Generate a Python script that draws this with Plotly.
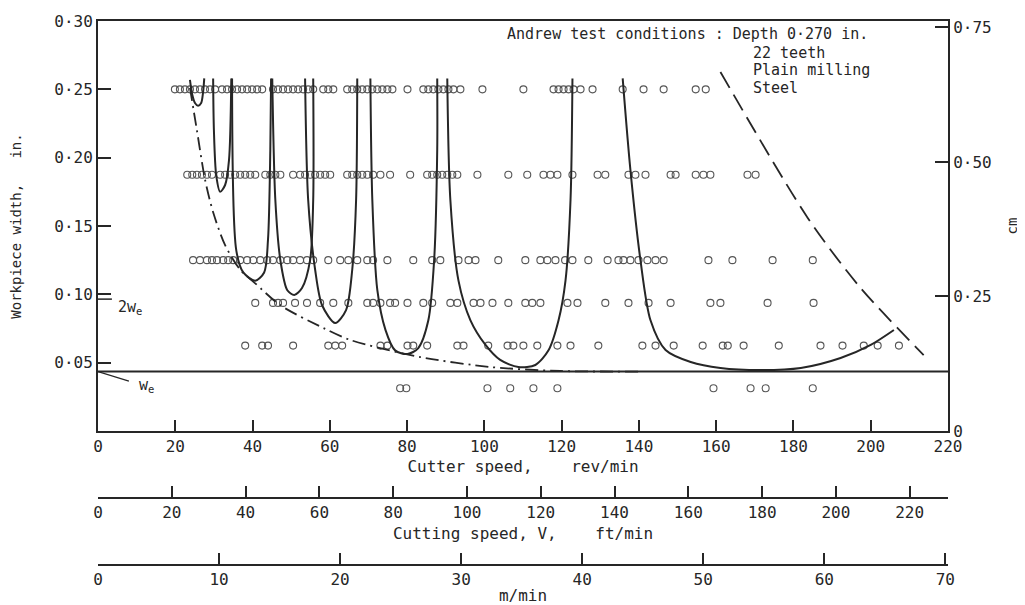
import plotly.graph_objects as go

# ---------------- data ----------------
# test points, cutter speed (rev/min) for each workpiece width row (in.)
row_widths = [0.25, 0.1875, 0.125, 0.09375, 0.0625, 0.03125]
row1_rpm = [19.9, 21.2, 22.5, 23.8, 25.1, 26.4, 27.7, 29.0, 30.3, 32.1, 33.4, 34.7, 36.0, 37.3, 38.6,
            39.9, 41.2, 42.5, 45.3, 46.6, 47.9, 49.2, 50.5, 51.8, 53.1, 54.4, 55.7, 58.3, 59.6, 60.9,
            64.5, 65.8, 67.1, 68.4, 69.7, 71.0, 72.3, 73.6, 74.9, 76.2, 80.1, 84.2, 85.5, 86.8, 88.1,
            89.4, 90.7, 92.0, 93.8, 99.5, 110.1, 117.9, 119.2, 120.5, 121.8, 123.1, 124.9, 128.0,
            135.8, 141.2, 146.4, 154.7, 157.3]
row2_rpm = [23.1, 24.4, 25.6, 26.9, 28.2, 29.5, 31.6, 32.9, 34.2, 35.5, 36.8, 38.1, 39.4, 40.7,
            43.3, 44.6, 45.9, 47.2, 50.5, 52.3, 53.6, 54.9, 56.2, 57.5, 58.8, 60.1, 64.5, 65.8, 67.1,
            68.4, 69.7, 71.2, 73.1, 75.6, 80.8, 85.2, 86.5, 87.8, 89.1, 90.4, 91.7, 93.0, 98.2, 106.2,
            111.1, 115.3, 117.1, 118.9, 122.8, 129.3, 131.3, 137.3, 139.1, 141.7, 148.2, 149.5,
            154.7, 156.7, 158.5, 168.1, 170.2]
row3_rpm = [24.6, 26.4, 28.2, 29.5, 30.8, 32.4, 33.7, 35.0, 36.8, 38.6, 40.2, 42.0, 43.8, 45.3,
            47.2, 49.0, 50.5, 52.3, 54.1, 55.7, 59.6, 62.7, 64.8, 67.1, 69.7, 71.2, 74.9, 81.6, 86.5,
            88.6, 93.3, 95.9, 97.7, 103.6, 110.6, 114.5, 116.3, 118.4, 120.9, 122.8, 126.9, 131.9,
            134.7, 136.0, 137.8, 139.9, 142.2, 144.3, 146.4, 158.0, 164.2, 174.6, 185.0]
row4_rpm = [40.7, 45.3, 46.6, 47.9, 51.0, 54.1, 57.5, 60.9, 64.8, 69.7, 71.2, 73.1, 75.6, 76.9,
            80.1, 84.2, 86.5, 91.2, 93.0, 97.2, 99.0, 102.1, 106.2, 110.6, 112.4, 114.5, 121.5,
            124.1, 131.3, 137.3, 142.5, 148.2, 158.5, 161.1, 173.3, 185.2]
row5_rpm = [38.1, 42.5, 44.0, 50.5, 59.6, 61.4, 63.2, 73.1, 74.9, 80.1, 81.6, 85.2, 93.0, 94.6,
            101.0, 106.0, 107.5, 110.1, 113.7, 118.9, 122.3, 129.5, 140.9, 144.3, 149.0, 156.5,
            161.7, 163.0, 167.1, 176.2, 187.0, 192.7, 198.2, 201.8, 207.3]
row6_rpm = [78.2, 79.8, 100.8, 106.7, 112.7, 118.9, 159.3, 168.9, 172.8, 185.0]

# stability lobes (rev/min, in.)
L1_rpm = [23.8, 24.4, 25.1, 25.9, 26.7, 27.2, 27.5]
L1_w = [0.257, 0.246, 0.240, 0.238, 0.240, 0.248, 0.258]
L2_rpm = [29.8, 30.0, 30.6, 31.6, 32.9, 33.9, 34.5]
L2_w = [0.258, 0.220, 0.187, 0.175, 0.180, 0.198, 0.258]
L3_rpm = [34.7, 35.8, 37.6, 40.7, 43.0, 44.0, 44.6, 44.8]
L3_w = [0.258, 0.132, 0.116, 0.110, 0.116, 0.140, 0.206, 0.258]
L4_rpm = [45.1, 45.9, 47.2, 49.0, 50.8, 52.8, 54.9, 55.7, 55.7]
L4_w = [0.258, 0.169, 0.125, 0.103, 0.0995, 0.1046, 0.125, 0.169, 0.258]
L5_rpm = [53.6, 54.4, 56.2, 58.0, 61.4, 64.2, 65.8, 66.8, 67.1]
L5_w = [0.258, 0.169, 0.118, 0.092, 0.079, 0.0885, 0.118, 0.169, 0.258]
L6_rpm = [70.5, 71.0, 72.3, 74.4, 76.9, 80.1, 82.9, 85.5, 87.0, 87.8, 87.8]
L6_w = [0.258, 0.169, 0.103, 0.074, 0.059, 0.0563, 0.0607, 0.081, 0.125, 0.206, 0.258]
L7_rpm = [90.4, 91.2, 93.3, 96.4, 100.3, 104.1, 108.8, 113.2, 116.6, 119.2, 121.0, 122.3, 122.8]
L7_w = [0.258, 0.169, 0.110, 0.081, 0.063, 0.052, 0.0468, 0.0483, 0.059, 0.081, 0.110, 0.169, 0.258]
L8_rpm = [135.8, 137.8, 140.4, 143.0, 146.9, 153.4, 161.1, 171.5, 181.9, 192.2, 200.0, 206.0]
L8_w = [0.258, 0.191, 0.125, 0.081, 0.0593, 0.0505, 0.0461, 0.0446, 0.0461, 0.0534, 0.063, 0.0739]

# chain-dotted lower boundary
env_rpm = [23.8, 25.6, 27.7, 29.8, 32.9, 36.8, 40.7, 47.2, 58.3, 65.3, 83.4, 101.6, 119.7, 140.0]
env_w = [0.251, 0.220, 0.184, 0.160, 0.136, 0.118, 0.108, 0.092, 0.0754, 0.0666, 0.0541, 0.0468, 0.0439, 0.0435]
# long-dashed right boundary
rb_rpm = [161.1, 183.7, 197.4, 213.7]
rb_w = [0.2627, 0.1559, 0.1046, 0.0556]

# limiting width w_e
we = 0.0435
we_span = [0, 220]

# axes
x_ticks = [0, 20, 40, 60, 80, 100, 120, 140, 160, 180, 200, 220]
y_ticks = [0.05, 0.10, 0.15, 0.20, 0.25, 0.30]
y_ticktext = ["0·05", "0·10", "0·15", "0·20", "0·25", "0·30"]
cm_ticks = [0, 0.25, 0.50, 0.75]
cm_ticktext = ["0", "0·25", "0·50", "0·75"]
ft_ticks = [0, 20, 40, 60, 80, 100, 120, 140, 160, 180, 200, 220]
m_ticks = [0, 10, 20, 30, 40, 50, 60, 70]
cutter_diam_in = 4.0

# ---------------- figure ----------------
INK = "#262626"
FONT = "DejaVu Sans Mono"
rpm_max = 220
ft_max = rpm_max * 3.14159265 * cutter_diam_in / 12.0
m_max = ft_max * 0.3048

fig = go.Figure()

# test points
pts_x, pts_y = [], []
for w, row in zip(row_widths, [row1_rpm, row2_rpm, row3_rpm, row4_rpm, row5_rpm, row6_rpm]):
    pts_x += row
    pts_y += [w] * len(row)
fig.add_trace(go.Scatter(x=pts_x, y=pts_y, mode="markers",
                         marker=dict(symbol="circle-open", size=7, color="#555",
                                     line=dict(width=1.1, color="#555")),
                         hoverinfo="skip", showlegend=False))

# limiting width line
fig.add_trace(go.Scatter(x=we_span, y=[we, we], mode="lines",
                         line=dict(color=INK, width=2), hoverinfo="skip", showlegend=False))

# lobes
for xs, ys in [(L1_rpm, L1_w), (L2_rpm, L2_w), (L3_rpm, L3_w), (L4_rpm, L4_w),
               (L5_rpm, L5_w), (L6_rpm, L6_w), (L7_rpm, L7_w), (L8_rpm, L8_w)]:
    fig.add_trace(go.Scatter(x=xs, y=ys, mode="lines",
                             line=dict(color=INK, width=2, shape="spline", smoothing=0.8),
                             hoverinfo="skip", showlegend=False))

# boundaries
fig.add_trace(go.Scatter(x=env_rpm, y=env_w, mode="lines",
                         line=dict(color=INK, width=1.8, dash="13px,5px,2px,5px",
                                   shape="spline", smoothing=0.8),
                         hoverinfo="skip", showlegend=False))
fig.add_trace(go.Scatter(x=rb_rpm, y=rb_w, mode="lines",
                         line=dict(color=INK, width=1.8, dash="18px,8px",
                                   shape="spline", smoothing=0.8),
                         hoverinfo="skip", showlegend=False))

# carriers for the extra scales
fig.add_trace(go.Scatter(x=[0, 0.762], y=[0, 0.762], yaxis="y2", mode="markers",
                         marker=dict(opacity=0), hoverinfo="skip", showlegend=False))
fig.add_trace(go.Scatter(x=[0, ft_max], y=[0, 0], xaxis="x2", mode="markers",
                         marker=dict(opacity=0), hoverinfo="skip", showlegend=False))
fig.add_trace(go.Scatter(x=[0, m_max], y=[0, 0], xaxis="x3", mode="markers",
                         marker=dict(opacity=0), hoverinfo="skip", showlegend=False))

# annotations
ann = dict(showarrow=False, font=dict(family=FONT, size=15, color=INK), xanchor="left")
fig.add_annotation(x=105.4, y=0.2905, text="Andrew test conditions : Depth 0·270 in.", **ann)
fig.add_annotation(x=168.9, y=0.2766, text="22 teeth", **ann)
fig.add_annotation(x=168.9, y=0.2641, text="Plain milling", **ann)
fig.add_annotation(x=168.9, y=0.2510, text="Steel", **ann)
fig.add_annotation(x=4.6, y=0.0905, text="2w<sub>e</sub>", **ann)
fig.add_annotation(x=10.0, y=0.0335, text="w<sub>e</sub>", **ann)
fig.add_shape(type="line", x0=0, y0=we, x1=8.0, y1=0.0365, line=dict(color=INK, width=1.3))
fig.add_shape(type="line", x0=0, y0=0.0965, x1=3.6, y1=0.0965, line=dict(color=INK, width=1.5))

nb = "\u00a0"
tick_font = dict(family=FONT, size=16, color=INK)
title_font = dict(family=FONT, size=16, color=INK)
ytitle_font = dict(family=FONT, size=14, color=INK)

# page body adds an 8 px offset, so the figure is 8 px smaller than the window
H_PLOT_TOP, H_PLOT_BOT = 21, 565
ph = H_PLOT_BOT - H_PLOT_TOP

fig.update_layout(
    width=1017, height=597,
    margin=dict(l=90, r=77, t=13, b=40),
    paper_bgcolor="white", plot_bgcolor="white",
    showlegend=False,
    xaxis=dict(range=[0, rpm_max], tickvals=x_ticks, ticks="inside", ticklen=11, tickwidth=1.5,
               tickcolor=INK, showline=True, linewidth=2, linecolor=INK, mirror=True,
               showgrid=False, zeroline=False, tickfont=tick_font, automargin=False,
               title=dict(text="Cutter speed," + nb * 4 + "rev/min", font=title_font, standoff=6)),
    yaxis=dict(range=[0, 0.30], domain=[(H_PLOT_BOT - 431) / ph, 1], tickvals=y_ticks,
               ticktext=y_ticktext,
               ticks="inside", ticklen=13, tickwidth=1.5, tickcolor=INK,
               showline=True, linewidth=2, linecolor=INK, showgrid=False, zeroline=False,
               tickfont=tick_font, automargin=False,
               title=dict(text="Workpiece width," + nb * 3 + "in.", font=ytitle_font, standoff=33)),
    yaxis2=dict(range=[0, 0.30 * 2.54], overlaying="y", side="right", tickvals=cm_ticks,
                ticktext=cm_ticktext, ticks="inside", ticklen=13, tickwidth=1.5, tickcolor=INK,
                showline=True, linewidth=2, linecolor=INK, showgrid=False, zeroline=False,
                tickfont=tick_font, automargin=False,
                title=dict(text="cm", font=ytitle_font, standoff=16)),
    xaxis2=dict(range=[0, ft_max], overlaying="x", anchor="free",
                position=(H_PLOT_BOT - 498) / ph,
                side="bottom", tickvals=ft_ticks, ticks="inside", ticklen=11, tickwidth=1.5,
                tickcolor=INK, showline=True, linewidth=1.8, linecolor=INK, showgrid=False,
                zeroline=False, tickfont=tick_font, automargin=False,
                title=dict(text="Cutting speed, V," + nb * 4 + "ft/min", font=title_font, standoff=6)),
    xaxis3=dict(range=[0, m_max], overlaying="x", anchor="free", position=0,
                side="bottom", tickvals=m_ticks, ticks="inside", ticklen=11, tickwidth=1.5,
                tickcolor=INK, showline=True, linewidth=1.8, linecolor=INK, showgrid=False,
                zeroline=False, tickfont=tick_font, automargin=False,
                title=dict(text="m/min", font=title_font, standoff=4)),
)

fig.write_html("out.html")
